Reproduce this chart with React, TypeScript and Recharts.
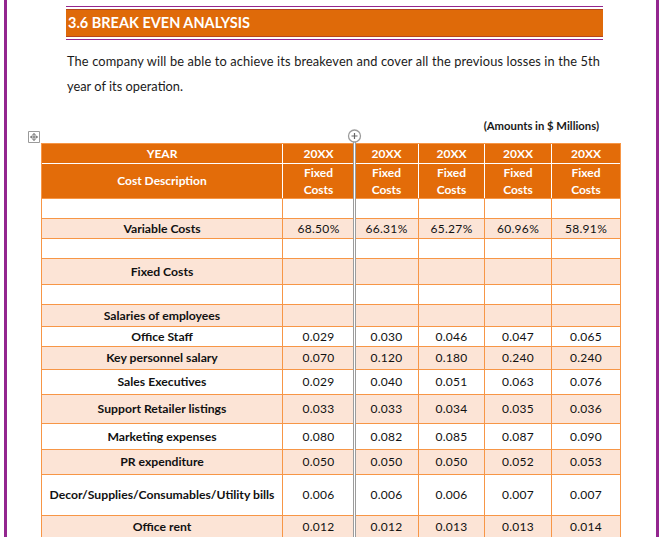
import { Surface, Layer, Rectangle, Text } from 'recharts';

const years = ['20XX', '20XX', '20XX', '20XX', '20XX'];
const variableCosts = ['68.50%', '66.31%', '65.27%', '60.96%', '58.91%'];
const costItems = [
  'Office Staff',
  'Key personnel salary',
  'Sales Executives',
  'Support Retailer listings',
  'Marketing expenses',
  'PR expenditure',
  'Decor/Supplies/Consumables/Utility bills',
  'Office rent',
];
const officeStaff = [0.029, 0.030, 0.046, 0.047, 0.065];
const keyPersonnel = [0.070, 0.120, 0.180, 0.240, 0.240];
const salesExecutives = [0.029, 0.040, 0.051, 0.063, 0.076];
const supportRetailer = [0.033, 0.033, 0.034, 0.035, 0.036];
const marketing = [0.080, 0.082, 0.085, 0.087, 0.090];
const prExpenditure = [0.050, 0.050, 0.050, 0.052, 0.053];
const decorSupplies = [0.006, 0.006, 0.006, 0.007, 0.007];
const officeRent = [0.012, 0.012, 0.013, 0.013, 0.014];

const costValues = [
  officeStaff, keyPersonnel, salesExecutives, supportRetailer,
  marketing, prExpenditure, decorSupplies, officeRent,
];

// layout (pixel lines of the table grid)
const colEdges = [41, 282, 354, 418, 484, 551, 620];
const headEdges = [143, 163, 198];
const rowEdges = [198, 218, 238, 258, 284, 304, 326, 346, 369, 394, 423, 449, 474, 515, 538];

const FONT = 'Lato, "Open Sans", sans-serif';
const ORANGE = '#E36C09';
const PEACH = '#FCE4D6';
const BORDER = '#F79646';
const PURPLE = '#93268F';
const LABEL_SIZE = 12.2;
const NUM_SIZE = 12;
const HEAD_SIZE = 12;

const blanks = years.map(() => '');
const bodyRows = [
  { label: '', values: blanks },
  { label: 'Variable Costs', values: variableCosts },
  { label: '', values: blanks },
  { label: 'Fixed Costs', values: blanks },
  { label: '', values: blanks },
  { label: 'Salaries of employees', values: blanks },
  ...costItems.map((c, i) => ({ label: c, values: costValues[i].map((v) => v.toFixed(3)) })),
];

function HLine({ y, x1, x2, color }: { y: number; x1: number; x2: number; color: string }) {
  return <Rectangle x={x1} y={y} width={x2 - x1 + 1} height={1} fill={color} />;
}
function VLine({ x, y1, y2, color }: { x: number; y1: number; y2: number; color: string }) {
  return <Rectangle x={x} y={y1} width={1} height={y2 - y1 + 1} fill={color} />;
}

export default function App() {
  const left = colEdges[0];
  const right = colEdges[colEdges.length - 1];
  const mid = (a: number, b: number) => (a + b + 1) / 2;

  return (
    <div style={{ position: 'absolute', left: 0, top: 0, width: 671, height: 537, background: '#fff' }}>
      <Surface width={671} height={537} viewBox={{ x: 0, y: 0, width: 671, height: 537 }}>
        {/* page edges */}
        <Rectangle x={4} y={0} width={3} height={537} fill={PURPLE} />
        <Rectangle x={656} y={0} width={3} height={537} fill={PURPLE} />

        {/* section heading */}
        <Layer>
          <Rectangle x={66} y={6} width={537} height={1} fill={PURPLE} />
          <Rectangle x={66} y={9} width={537} height={28} fill="#DF6A09" />
          <Rectangle x={66} y={9} width={537} height={1} fill="#B4471E" />
          <Rectangle x={66} y={36} width={537} height={1} fill="#B4471E" />
          <Rectangle x={66} y={39} width={537} height={1} fill={PURPLE} />
          <text x={68} y={28} fill="#fff" fontFamily={FONT} fontWeight={700} fontSize={15}
            textLength={182} lengthAdjust="spacingAndGlyphs">
            3.6 BREAK EVEN ANALYSIS
          </text>
        </Layer>

        {/* paragraph */}
        <text x={67} y={66} fill="#1a1a1a" fontFamily={FONT} fontSize={12.8} textLength={533} lengthAdjust="spacing">
          The company will be able to achieve its breakeven and cover all the previous losses in the 5th
        </text>
        <text x={67} y={91} fill="#1a1a1a" fontFamily={FONT} fontSize={12.8} textLength={116} lengthAdjust="spacing">
          year of its operation.
        </text>

        <text x={599} y={130} textAnchor="end" fill="#1a1a1a" fontFamily={FONT} fontWeight={700} fontSize={11.3}>
          (Amounts in $ Millions)
        </text>

        {/* table move handle */}
        <Layer>
          <Rectangle x={28.5} y={131.5} width={11} height={11} fill="#fff" stroke="#9a9a9a" strokeWidth={1} />
          <path d="M34 133.5 V140.5 M30.5 137 H37.5 M32.5 135 L34 133.5 L35.5 135 M32.5 139 L34 140.5 L35.5 139 M32.5 135.5 L30.5 137 L32.5 138.5 M35.5 135.5 L37.5 137 L35.5 138.5"
            stroke="#555" strokeWidth={0.8} fill="none" />
        </Layer>

        {/* header rows */}
        <Layer>
          <Rectangle x={left} y={headEdges[0]} width={right - left + 1} height={headEdges[2] - headEdges[0]} fill={ORANGE} />
          <HLine y={headEdges[1]} x1={left} x2={right} color="#fff" />
          {colEdges.slice(1, -1).map((x, i) => (
            <VLine key={i} x={x} y1={headEdges[0]} y2={headEdges[2]} color="#fff" />
          ))}
          <Text x={mid(colEdges[0], colEdges[1])} y={mid(headEdges[0], headEdges[1])} textAnchor="middle" verticalAnchor="middle"
            fill="#fff" fontFamily={FONT} fontWeight={700} fontSize={HEAD_SIZE}>YEAR</Text>
          <Text x={mid(colEdges[0], colEdges[1])} y={mid(headEdges[1], headEdges[2])} textAnchor="middle" verticalAnchor="middle"
            fill="#fff" fontFamily={FONT} fontWeight={700} fontSize={HEAD_SIZE}>Cost Description</Text>
          {years.map((yr, i) => (
            <Layer key={i}>
              <Text x={mid(colEdges[i + 1], colEdges[i + 2])} y={mid(headEdges[0], headEdges[1])} textAnchor="middle" verticalAnchor="middle"
                fill="#fff" fontFamily={FONT} fontWeight={700} fontSize={HEAD_SIZE}>{yr}</Text>
              <Text x={mid(colEdges[i + 1], colEdges[i + 2])} y={173} textAnchor="middle" verticalAnchor="middle"
                fill="#fff" fontFamily={FONT} fontWeight={700} fontSize={HEAD_SIZE}>Fixed</Text>
              <Text x={mid(colEdges[i + 1], colEdges[i + 2])} y={189.5} textAnchor="middle" verticalAnchor="middle"
                fill="#fff" fontFamily={FONT} fontWeight={700} fontSize={HEAD_SIZE}>Costs</Text>
            </Layer>
          ))}
        </Layer>

        {/* body rows */}
        <Layer>
          {bodyRows.map((row, r) => {
            const y0 = rowEdges[r];
            const y1 = rowEdges[r + 1];
            return (
              <Layer key={r}>
                <Rectangle x={left} y={y0} width={right - left + 1} height={y1 - y0} fill={r % 2 === 1 ? PEACH : '#fff'} />
                <Text x={mid(colEdges[0], colEdges[1])} y={mid(y0, y1)} textAnchor="middle" verticalAnchor="middle"
                  fill="#111" fontFamily={FONT} fontWeight={700} fontSize={LABEL_SIZE}>{row.label}</Text>
                {row.values.map((v, i) => (
                  <Text key={i} x={mid(colEdges[i + 1], colEdges[i + 2])} y={mid(y0, y1)} textAnchor="middle" verticalAnchor="middle"
                    fill="#111" fontFamily={FONT} fontSize={NUM_SIZE} letterSpacing={0.3}>{v}</Text>
                ))}
              </Layer>
            );
          })}
          {rowEdges.map((y, i) => (
            <HLine key={i} y={y} x1={left} x2={right} color={BORDER} />
          ))}
          {colEdges.map((x, i) => (
            <VLine key={i} x={x} y1={headEdges[2]} y2={537} color={BORDER} />
          ))}
          {/* outer header border */}
          <HLine y={headEdges[0]} x1={left} x2={right} color={BORDER} />
          <VLine x={left} y1={headEdges[0]} y2={headEdges[2]} color={BORDER} />
          <VLine x={right} y1={headEdges[0]} y2={headEdges[2]} color={BORDER} />
        </Layer>

        {/* column resize marker */}
        <Layer>
          <Rectangle x={353} y={142} width={1} height={395} fill="#9c9c9c" />
          <Rectangle x={354} y={142} width={1} height={395} fill="#fff" />
          <Rectangle x={355} y={142} width={1} height={395} fill="#9c9c9c" />
          <circle cx={354.5} cy={136} r={6} fill="#fff" stroke="#9c9c9c" strokeWidth={1.3} />
          <path d="M351.5 136 H357.5 M354.5 133 V139" stroke="#666" strokeWidth={1.2} />
        </Layer>
      </Surface>
    </div>
  );
}
